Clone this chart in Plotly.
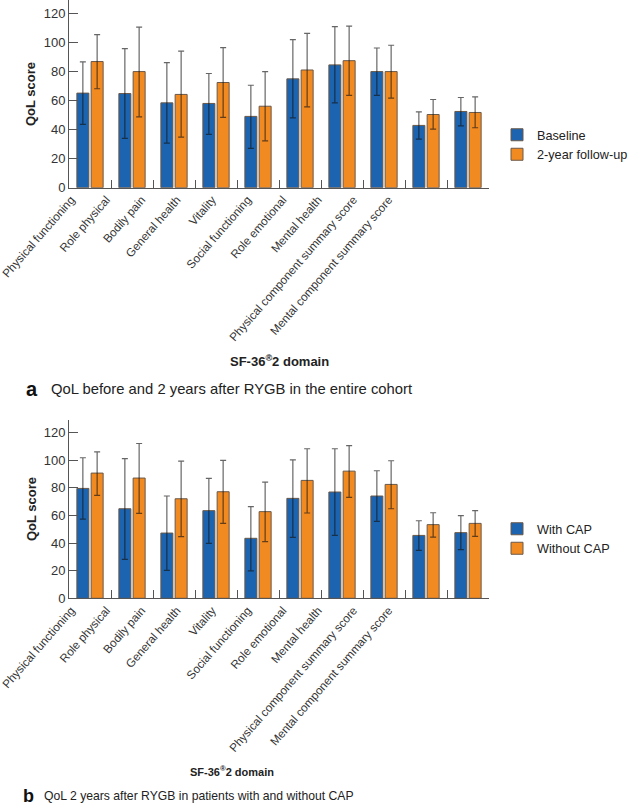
import plotly.graph_objects as go

categories = ["Physical functioning", "Role physical", "Bodily pain", "General health",
              "Vitality", "Social functioning", "Role emotional", "Mental health",
              "Physical component summary score", "Mental component summary score"]

# Panel a: entire cohort
baseline = [65.0, 64.7, 58.3, 57.9, 49.0, 74.8, 84.4, 79.8, 42.8, 52.4]
baseline_hi = [86.5, 95.6, 86.0, 78.5, 70.4, 101.8, 110.7, 96.0, 52.1, 62.0]
baseline_lo = [43.5, 33.9, 30.7, 36.6, 27.0, 48.0, 58.3, 63.4, 33.4, 42.5]
followup = [86.7, 79.8, 64.1, 72.3, 56.0, 80.9, 87.3, 79.8, 50.3, 51.7]
followup_hi = [105.2, 110.4, 93.8, 96.3, 79.8, 106.1, 111.1, 97.9, 60.6, 62.4]
followup_lo = [68.0, 48.7, 34.8, 48.3, 32.2, 55.6, 63.4, 61.5, 40.3, 41.2]

# Panel b: with / without CAP
with_cap = [79.5, 64.8, 47.2, 63.4, 43.4, 72.3, 76.9, 74.0, 45.5, 47.5]
with_cap_hi = [101.7, 101.0, 74.0, 86.7, 66.3, 100.2, 108.2, 92.3, 56.1, 59.8]
with_cap_lo = [57.3, 28.2, 20.2, 39.8, 19.8, 44.1, 45.5, 55.7, 34.7, 35.2]
without_cap = [90.6, 87.0, 72.0, 77.1, 62.7, 85.3, 92.0, 82.4, 53.3, 54.2]
without_cap_hi = [106.0, 112.0, 99.3, 99.8, 84.1, 108.2, 110.4, 99.5, 61.9, 63.4]
without_cap_lo = [74.5, 61.4, 44.6, 54.2, 41.0, 61.7, 73.0, 64.8, 44.3, 44.8]

y_ticks = [0, 20, 40, 60, 80, 100, 120]

BLUE = "#1c64b0"
ORANGE = "#f28a22"
OUTLINE = "#6a5848"
ERR = "rgba(20,20,20,0.65)"
FONT = "Liberation Sans, Arial, sans-serif"

W, H = 628, 806
PLOT_L, PLOT_R = 69, 489
CAT_W = (PLOT_R - PLOT_L) / len(categories)


def px_x(p):
    return p / W


def px_y(p):
    return 1 - p / H


# tick labels in the reference are packed tighter than the bars (35 px pitch)
label_pos = [(71 + 35.3 * i - PLOT_L) / CAT_W - 0.5 for i in range(len(categories))]


def bar(name, vals, hi, lo, color, xa, ya, legend):
    return go.Bar(
        name=name, x=categories, y=vals, xaxis=xa, yaxis=ya, legend=legend,
        marker=dict(color=color, line=dict(color=OUTLINE, width=1)),
        error_y=dict(type="data", symmetric=False,
                     array=[h - v for h, v in zip(hi, vals)],
                     arrayminus=[v - l for v, l in zip(vals, lo)],
                     color=ERR, thickness=1.2, width=3),
    )


def label_anchor(xa, ya):
    # invisible helper so the label axis is drawn
    return go.Scatter(x=[label_pos[1]], y=[0], xaxis=xa, yaxis=ya, mode="markers",
                      marker=dict(size=1, opacity=0), showlegend=False, hoverinfo="skip")


fig = go.Figure()
fig.add_trace(bar("Baseline", baseline, baseline_hi, baseline_lo, BLUE, "x", "y", "legend"))
fig.add_trace(bar("2-year follow-up", followup, followup_hi, followup_lo, ORANGE, "x", "y", "legend"))
fig.add_trace(bar("With CAP", with_cap, with_cap_hi, with_cap_lo, BLUE, "x2", "y2", "legend2"))
fig.add_trace(bar("Without CAP", without_cap, without_cap_hi, without_cap_lo, ORANGE, "x2", "y2", "legend2"))
fig.add_trace(label_anchor("x3", "y"))
fig.add_trace(label_anchor("x4", "y2"))

xdom = [px_x(PLOT_L), px_x(PLOT_R)]
xcommon = dict(type="category", domain=xdom, showline=True, linecolor="#555", linewidth=1,
               ticks="inside", tickson="boundaries", ticklen=8, tickcolor="#555",
               showticklabels=False, range=[-0.5, 9.5],
               showgrid=False, zeroline=False, fixedrange=True, automargin=False)
xlabels = dict(type="linear", range=[-0.5, 9.5], tickvals=label_pos, ticktext=categories,
               tickangle=-49, ticks="", showline=False, showgrid=False, zeroline=False,
               ticklabeloverflow="allow", ticklabelstandoff=2,
               tickfont=dict(family=FONT, size=11.7, color="#333"),
               fixedrange=True, automargin=False)
ycommon = dict(range=[0, 129], tickvals=y_ticks, showline=True, linecolor="#555", linewidth=1,
               ticks="inside", ticklen=9, tickcolor="#555",
               tickfont=dict(family=FONT, size=13, color="#333"),
               showgrid=False, zeroline=False, fixedrange=True, automargin=False)

fig.update_layout(
    width=W, height=H, margin=dict(l=0, r=0, t=0, b=0, autoexpand=False),
    paper_bgcolor="white", plot_bgcolor="white",
    barmode="group", bargap=0.32, bargroupgap=0.16,
    font=dict(family=FONT, color="#222"),
    xaxis=dict(**xcommon, anchor="y"),
    yaxis=dict(**ycommon, domain=[px_y(187.7), 1.0], anchor="x"),
    xaxis2=dict(**xcommon, anchor="y2"),
    yaxis2=dict(**ycommon, domain=[px_y(598.3), px_y(420)], anchor="x2"),
    xaxis3=dict(**xlabels, overlaying="x", anchor="y", domain=xdom),
    xaxis4=dict(**xlabels, overlaying="x2", anchor="y2", domain=xdom),
    legend=dict(x=px_x(497), y=px_y(145), xanchor="left", yanchor="middle",
                font=dict(family=FONT, size=12.7, color="#222"), tracegroupgap=0,
                bgcolor="rgba(0,0,0,0)"),
    legend2=dict(x=px_x(497), y=px_y(539), xanchor="left", yanchor="middle",
                 font=dict(family=FONT, size=12.7, color="#222"), tracegroupgap=0,
                 bgcolor="rgba(0,0,0,0)"),
    showlegend=True,
)

ann = []
for yc in (94, 509):
    ann.append(dict(text="<b>QoL score</b>", x=px_x(31), y=px_y(yc), xref="paper", yref="paper",
                    xanchor="center", yanchor="middle", showarrow=False, textangle=-90,
                    font=dict(family=FONT, size=13, color="#222")))
for xc, yc, fs in ((279, 361, 13), (232, 771, 11)):
    ann.append(dict(text="<b>SF-36<sup>®</sup>2 domain</b>", x=px_x(xc), y=px_y(yc),
                    xref="paper", yref="paper", xanchor="center", yanchor="middle",
                    showarrow=False, font=dict(family=FONT, size=fs, color="#222")))
captions = [("a", 20, 24, "QoL before and 2 years after RYGB in the entire cohort", 14.8, 49, 389),
            ("b", 18, 21, "QoL 2 years after RYGB in patients with and without CAP", 12.2, 42, 796)]
for letter, lfs, lx, txt, tfs, tx, yc in captions:
    ann.append(dict(text="<b>%s</b>" % letter, x=px_x(lx), y=px_y(yc), xref="paper", yref="paper",
                    xanchor="left", yanchor="middle", showarrow=False,
                    font=dict(family=FONT, size=lfs, color="#111")))
    ann.append(dict(text=txt, x=px_x(tx), y=px_y(yc), xref="paper", yref="paper",
                    xanchor="left", yanchor="middle", showarrow=False,
                    font=dict(family=FONT, size=tfs, color="#222")))
fig.update_layout(annotations=ann)

fig.write_html("out.html", config={"displayModeBar": False},
               post_script="document.body.style.margin='0px';"
                           "document.documentElement.style.overflow='hidden';")
